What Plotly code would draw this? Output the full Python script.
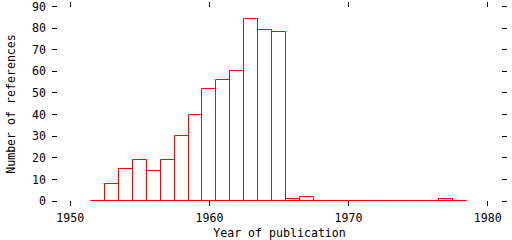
import plotly.graph_objects as go

years = list(range(1952, 1979))
counts = [0, 8, 15, 19, 14, 19, 30, 40, 52, 56, 60, 84, 79, 78, 1, 2,
          0, 0, 0, 0, 0, 0, 0, 0, 0, 1, 0]
x_ticks = [1950, 1960, 1970, 1980]
y_ticks = [0, 10, 20, 30, 40, 50, 60, 70, 80, 90]

FONT = dict(family="DejaVu Sans Mono", size=11.6, color="black")

fig = go.Figure()
fig.add_trace(go.Bar(
    x=years, y=counts, width=1,
    marker=dict(color="rgba(0,0,0,0)", line=dict(color="#ff0000", width=1)),
))

fig.update_layout(
    width=512, height=240,
    margin=dict(l=52, r=5, t=0, b=33.5),
    paper_bgcolor="white", plot_bgcolor="white",
    showlegend=False, font=FONT, bargap=0,
)
fig.update_xaxes(
    range=[1948.685, 1981.39], tickmode="array", tickvals=x_ticks,
    ticks="inside", ticklen=5, tickwidth=1, tickcolor="black",
    mirror="ticks", showline=False, showgrid=False, zeroline=False,
    title=dict(text="Year of publication", font=FONT, standoff=6),
    tickfont=FONT, ticklabelstandoff=3, ticklabeloverflow="allow",
)
fig.update_yaxes(
    range=[-2.28, 92.06], tickmode="array", tickvals=y_ticks,
    ticks="inside", ticklen=5, tickwidth=1, tickcolor="black",
    mirror="ticks", showline=False, showgrid=False, zeroline=False,
    title=dict(text="Number of references", font=FONT, standoff=13),
    tickfont=FONT, ticklabelstandoff=5, ticklabeloverflow="allow",
)
fig.write_html("out.html")
